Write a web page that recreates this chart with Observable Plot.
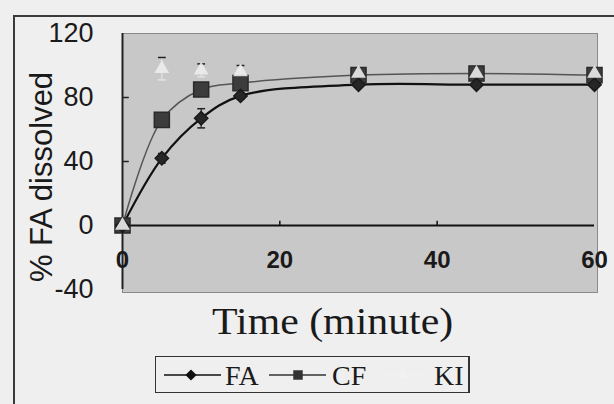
<!DOCTYPE html>
<html>
<head>
<meta charset="utf-8">
<script src="https://cdn.jsdelivr.net/npm/d3@7"></script>
<script src="https://cdn.jsdelivr.net/npm/@observablehq/plot@0.6"></script>
<style>
  html, body { margin: 0; padding: 0; background: #eeeeee; }
  #wrap { position: relative; width: 614px; height: 404px; overflow: hidden; background: #efefef; }
  #border { position: absolute; left: 13px; top: 15px; right: -4px; bottom: -4px; border-left: 2px solid #3a3a3a; border-top: 2px solid #3a3a3a; }
  #chart { position: absolute; left: 0; top: 0; }
  #ytitle { position: absolute; left: 41px; top: 177px; transform: translate(-50%, -50%) rotate(-90deg); font-family: "Liberation Sans", Arial, sans-serif; font-size: 31px; line-height: 1; color: #1a1a1a; white-space: nowrap; }
  #xtitle { position: absolute; left: 212px; top: 299px; transform: scaleX(1.1); transform-origin: left top; font-family: "Liberation Serif", "Times New Roman", serif; font-size: 38px; color: #1a1a1a; white-space: nowrap; }
  #legend { position: absolute; left: 155px; top: 356px; width: 312px; height: 35px; border: 1.5px solid #333; border-right-width: 2px; overflow: hidden; }
</style>
</head>
<body>
<div id="wrap">
  <div id="border"></div>
  <div id="chart"></div>
  <div id="ytitle"></div>
  <div id="xtitle">Time (minute)</div>
  <div id="legend"></div>
</div>
<script>
// ---- data ----
const time   = [0, 5, 10, 15, 30, 45, 60];
const faMean = [0, 42, 67, 81, 88, 88, 88];
const faErr  = [0, 3, 6, 2, 1, 1, 1];
const cfMean = [0, 66, 85, 89, 94, 95, 94];
const cfErr  = [0, 2, 4, 2, 1, 1, 1];
const kiMean = [0, 98, 97, 96, 95, 95, 95];
const kiErr  = [0, 7, 4, 4, 2, 2, 2];
const seriesNames = ["FA", "CF", "KI"];
const xTicks = [0, 20, 40, 60];
const yTicks = [-40, 0, 40, 80, 120];
const yInnerTicks = [40, 80];
const yTitle = "% FA dissolved";

document.getElementById("ytitle").textContent = yTitle;

const means = {FA: faMean, CF: cfMean, KI: kiMean};
const errs = {FA: faErr, CF: cfErr, KI: kiErr};
const rows = seriesNames.flatMap(s => time.map((t, i) => ({s, t, v: means[s][i], e: errs[s][i]})));
const bySeries = s => rows.filter(d => d.s === s);
const errRows = rows.filter(d => d.e > 0 && d.t > 0 && d.t <= 15);

const chart = Plot.plot({
  width: 614,
  height: 310,
  marginLeft: 122,
  marginRight: 20,
  marginTop: 33,
  marginBottom: 21,
  x: {domain: [0, 60], axis: null},
  y: {domain: [-40, 120]},
  style: {background: "transparent", fontFamily: "'Liberation Sans', Arial, sans-serif", color: "#1a1a1a"},
  marks: [
    Plot.frame({fill: "#c8c8c8", stroke: "#8a8a8a", insetRight: -3, insetBottom: -3}),
    Plot.ruleY([0], {stroke: "#111", strokeWidth: 2}),
    Plot.ruleX([0], {stroke: "#222", strokeWidth: 2}),
    Plot.link(xTicks.filter(d => d > 0 && d < 60), {x1: d => d, x2: d => d, y1: 0, y2: 3, stroke: "#111", strokeWidth: 1.5}),
    Plot.link(yInnerTicks, {x1: 0, x2: 0.8, y1: d => d, y2: d => d, stroke: "#222", strokeWidth: 1.5}),
    Plot.axisY({ticks: yTicks, tickSize: 0, tickPadding: 29, fontSize: 27, label: null, tickFormat: d => String(d)}),
    Plot.text(xTicks, {x: d => d, y: -22, text: d => String(d), fontSize: 24, fontWeight: "bold", fill: "#1a1a1a"}),
    // lines
    Plot.line(bySeries("CF"), {x: "t", y: "v", stroke: "#555555", strokeWidth: 1.5, curve: "catmull-rom"}),
    Plot.line(bySeries("FA"), {x: "t", y: "v", stroke: "#111111", strokeWidth: 2.2, curve: "catmull-rom"}),
    // error bars
    Plot.ruleX(errRows, {x: "t", y1: d => d.v - d.e, y2: d => d.v + d.e, stroke: d => d.s === "KI" ? "#e4e4e4" : "#222", strokeWidth: 1.2}),
    Plot.link(errRows, {x1: d => d.t - 0.5, x2: d => d.t + 0.5, y1: d => d.v + d.e, y2: d => d.v + d.e, stroke: "#222", strokeWidth: 1.5}),
    Plot.link(errRows, {x1: d => d.t - 0.5, x2: d => d.t + 0.5, y1: d => d.v - d.e, y2: d => d.v - d.e, stroke: d => d.s === "KI" ? "#e4e4e4" : "#222", strokeWidth: 1.5}),
    // markers
    Plot.dot(bySeries("CF"), {x: "t", y: "v", symbol: "square", r: 8.5, fill: "#3c3c3c", stroke: "#2a2a2a"}),
    Plot.dot(bySeries("FA"), {x: "t", y: "v", symbol: "diamond2", r: 6, fill: "#262626", stroke: "#1a1a1a"}),
    Plot.dot(bySeries("KI"), {x: "t", y: "v", symbol: "triangle", r: 5.5, fill: "#ececec", fillOpacity: 0.9, stroke: "none"})
  ]
});
document.getElementById("chart").appendChild(chart);

// ---- legend ----
const lg = d3.select("#legend").append("svg").attr("width", 312).attr("height", 35);
const items = [
  {name: seriesNames[0], x0: 8, x1: 65, mx: 35, tx: 69, color: "#111", sym: d3.symbolDiamond2, size: 80},
  {name: seriesNames[1], x0: 113, x1: 170, mx: 142, tx: 176, color: "#333", sym: d3.symbolSquare, size: 90},
  {name: seriesNames[2], x0: 222, x1: 272, mx: 247, tx: 278, color: "#f1f1f1", sym: d3.symbolTriangle, size: 60}
];
items.forEach(it => {
  lg.append("line").attr("x1", it.x0).attr("x2", it.x1).attr("y1", 18).attr("y2", 18)
    .attr("stroke", it.color).attr("stroke-width", 1.3);
  lg.append("path").attr("d", d3.symbol(it.sym, it.size)()).attr("transform", `translate(${it.mx},18)`)
    .attr("fill", it.color);
  lg.append("text").attr("x", it.tx).attr("y", 28).text(it.name)
    .attr("font-family", "'Liberation Serif', 'Times New Roman', serif").attr("font-size", 28).attr("fill", "#1a1a1a");
});
</script>
</body>
</html>
